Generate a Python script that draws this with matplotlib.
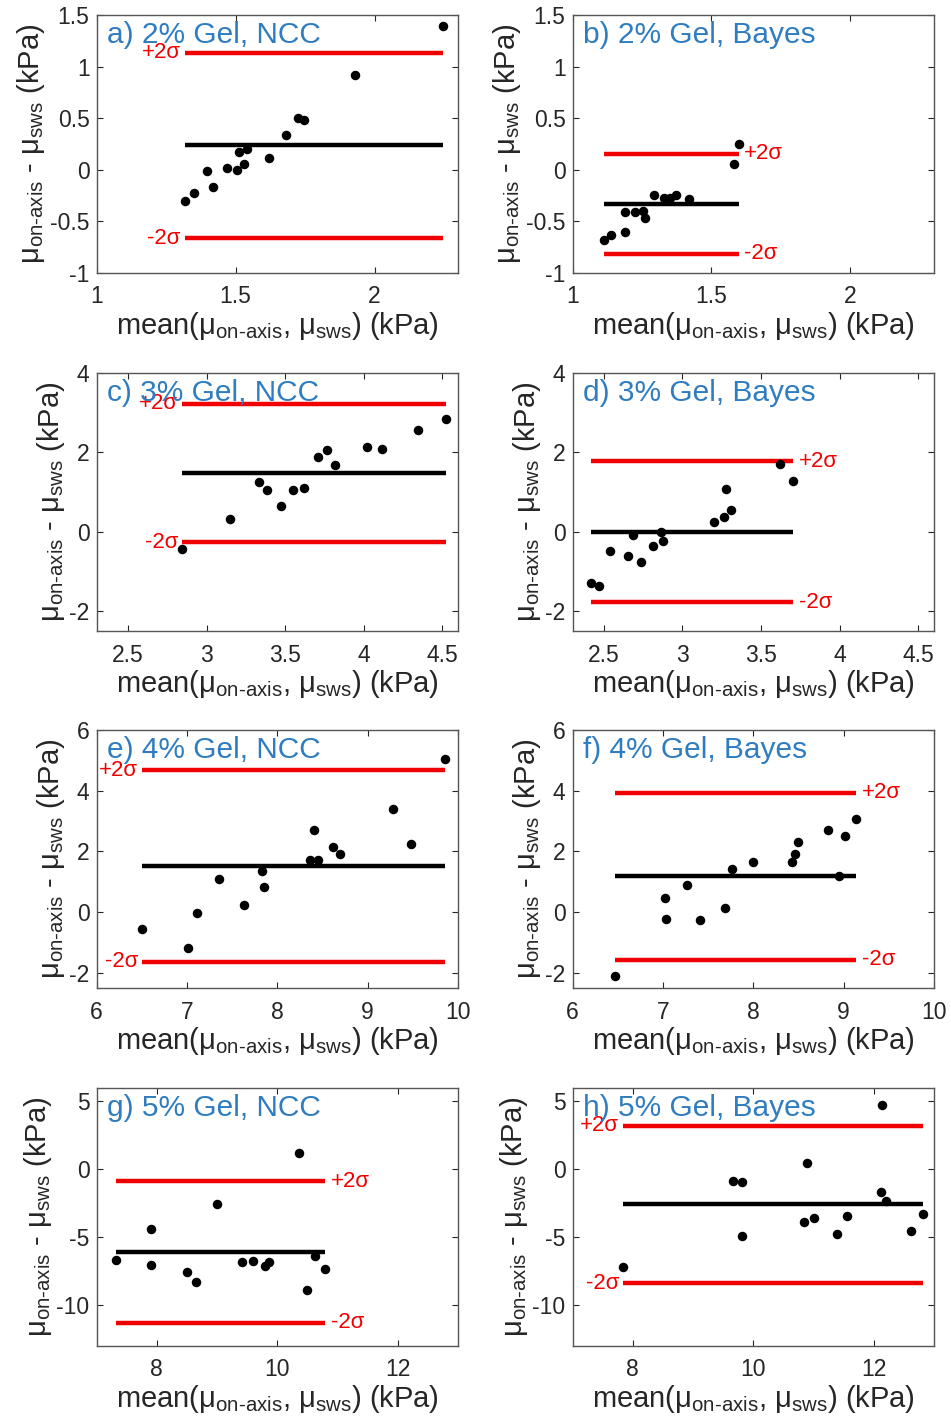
import matplotlib
matplotlib.use("Agg")
import matplotlib.pyplot as plt
from matplotlib.ticker import FuncFormatter

plt.rcParams['font.family'] = ['Liberation Sans', 'DejaVu Sans']
plt.rcParams['mathtext.fontset'] = 'custom'
plt.rcParams['mathtext.rm'] = 'Liberation Sans'
plt.rcParams['mathtext.it'] = 'Liberation Sans:italic'
plt.rcParams['axes.unicode_minus'] = False

# panel titles and where the +/-2 sigma labels sit
titles = ['a) 2% Gel, NCC', 'b) 2% Gel, Bayes', 'c) 3% Gel, NCC', 'd) 3% Gel, Bayes',
          'e) 4% Gel, NCC', 'f) 4% Gel, Bayes', 'g) 5% Gel, NCC', 'h) 5% Gel, Bayes']
sigma_side = ['left', 'right', 'left', 'right', 'left', 'right', 'right', 'left']

# mean of the two measurements (kPa)
x_a = [1.318, 1.35, 1.398, 1.419, 1.469, 1.506, 1.512, 1.530, 1.540, 1.621, 1.682, 1.724, 1.748, 1.929, 2.246]
x_b = [1.115, 1.138, 1.189, 1.189, 1.225, 1.255, 1.262, 1.293, 1.328, 1.35, 1.373, 1.419, 1.581, 1.598]
x_c = [2.845, 3.151, 3.337, 3.388, 3.475, 3.552, 3.622, 3.709, 3.764, 3.818, 4.022, 4.118, 4.345, 4.522]
x_d = [2.415, 2.466, 2.536, 2.653, 2.682, 2.733, 2.814, 2.865, 2.873, 3.202, 3.263, 3.274, 3.307, 3.619, 3.704]
x_e = [6.504, 7.007, 7.11, 7.359, 7.631, 7.837, 7.859, 8.358, 8.41, 8.454, 8.615, 8.696, 9.286, 9.481, 9.852]
x_f = [6.473, 7.027, 7.038, 7.27, 7.406, 7.687, 7.769, 7.993, 8.43, 8.463, 8.492, 8.832, 8.953, 9.012, 9.138]
x_g = [7.321, 7.91, 7.91, 8.50, 8.65, 8.993, 9.417, 9.60, 9.805, 9.859, 10.361, 10.50, 10.626, 10.80]
x_h = [7.846, 9.667, 9.821, 9.816, 10.843, 10.897, 11.008, 11.394, 11.56, 12.123, 12.20, 12.139, 12.626, 12.818]

# difference of the two measurements (kPa)
y_a = [-0.306, -0.228, -0.011, -0.17, 0.018, -0.001, 0.167, 0.054, 0.20, 0.109, 0.333, 0.50, 0.479, 0.916, 1.396]
y_b = [-0.684, -0.632, -0.607, -0.41, -0.413, -0.40, -0.466, -0.249, -0.278, -0.278, -0.245, -0.284, 0.055, 0.248]
y_c = [-0.44, 0.33, 1.245, 1.05, 0.66, 1.06, 1.10, 1.875, 2.06, 1.68, 2.14, 2.09, 2.56, 2.83]
y_d = [-1.30, -1.37, -0.49, -0.60, -0.09, -0.76, -0.36, 0.0, -0.23, 0.25, 0.38, 1.07, 0.55, 1.70, 1.28]
y_e = [-0.567, -1.18, -0.04, 1.095, 0.22, 1.345, 0.82, 1.73, 2.70, 1.71, 2.15, 1.91, 3.40, 2.26, 5.05]
y_f = [-2.11, 0.46, -0.21, 0.91, -0.27, 0.14, 1.42, 1.65, 1.65, 1.90, 2.31, 2.72, 1.18, 2.51, 3.06]
y_g = [-6.70, -4.37, -7.04, -7.59, -8.30, -2.56, -6.79, -6.77, -7.14, -6.84, 1.17, -8.85, -6.35, -7.33]
y_h = [-7.19, -0.85, -0.91, -4.94, -3.85, 0.46, -3.58, -4.79, -3.43, -1.69, -2.32, 4.74, -4.57, -3.25]

# bias and limits of agreement
bias = [0.235, -0.329, 1.49, 0.0, 1.51, 1.18, -6.07, -2.56]
upper = [1.133, 0.155, 3.23, 1.78, 4.68, 3.93, -0.88, 3.23]
lower = [-0.666, -0.816, -0.27, -1.78, -1.64, -1.57, -11.30, -8.37]

# axis limits and ticks
xlims = [(1, 2.3), (1, 2.3), (2.3, 4.6), (2.3, 4.6), (6, 10), (6, 10), (7, 13), (7, 13)]
ylims = [(-1, 1.5), (-1, 1.5), (-2.5, 4), (-2.5, 4), (-2.5, 6), (-2.5, 6), (-13, 6), (-13, 6)]
xticks = [[1, 1.5, 2], [1, 1.5, 2], [2.5, 3, 3.5, 4, 4.5], [2.5, 3, 3.5, 4, 4.5],
          [6, 7, 8, 9, 10], [6, 7, 8, 9, 10], [8, 10, 12], [8, 10, 12]]
yticks = [[-1, -0.5, 0, 0.5, 1, 1.5], [-1, -0.5, 0, 0.5, 1, 1.5], [-2, 0, 2, 4], [-2, 0, 2, 4],
          [-2, 0, 2, 4, 6], [-2, 0, 2, 4, 6], [-10, -5, 0, 5], [-10, -5, 0, 5]]

xs = [x_a, x_b, x_c, x_d, x_e, x_f, x_g, x_h]
ys = [y_a, y_b, y_c, y_d, y_e, y_f, y_g, y_h]

xlabel = r'mean(μ$_{\text{on-axis}}$, μ$_{\text{sws}}$) (kPa)'
ylabel = r'μ$_{\text{on-axis}}$ - μ$_{\text{sws}}$ (kPa)'

fig = plt.figure(figsize=(9.51, 14.18), dpi=100)
lefts = [0.1015, 0.602]
bottoms = [0.8075, 0.555, 0.3032, 0.0508]
w, h = 0.3800, 0.182
fmt = FuncFormatter(lambda v, p: '%g' % v)
red = '#f00000'
blue = '#2f7dc0'
axcol = '#262626'

for i in range(8):
    ax = fig.add_axes([lefts[i % 2], bottoms[i // 2], w, h])
    x, y = xs[i], ys[i]
    x0, x1 = min(x), max(x)
    ax.plot([x0, x1], [upper[i], upper[i]], color=red, lw=3.2, solid_capstyle='butt')
    ax.plot([x0, x1], [lower[i], lower[i]], color=red, lw=3.2, solid_capstyle='butt')
    ax.plot([x0, x1], [bias[i], bias[i]], color='black', lw=3.2, solid_capstyle='butt')
    ax.scatter(x, y, s=34, color='black', zorder=3)

    for val, lab in [(upper[i], '+2σ'), (lower[i], '-2σ')]:
        if sigma_side[i] == 'left':
            ax.annotate(lab, (x0, val), xytext=(-3, 0), textcoords='offset points',
                        ha='right', va='center', color=red, fontsize=16)
        else:
            ax.annotate(lab, (x1, val), xytext=(4, 0), textcoords='offset points',
                        ha='left', va='center', color=red, fontsize=16)

    ax.text(0.03, 0.975, titles[i], transform=ax.transAxes, ha='left', va='top',
            color=blue, fontsize=21.5)

    ax.set_xlim(*xlims[i])
    ax.set_ylim(*ylims[i])
    ax.set_xticks(xticks[i])
    ax.set_yticks(yticks[i])
    ax.xaxis.set_major_formatter(fmt)
    ax.yaxis.set_major_formatter(fmt)
    ax.tick_params(direction='in', top=True, right=True, length=4, width=0.8,
                   labelsize=16.5, colors=axcol, pad=5)
    ax.tick_params(axis='x', pad=9)
    for sp in ax.spines.values():
        sp.set_color('#555555')
        sp.set_linewidth(1.0)
    ax.set_xlabel(xlabel, fontsize=21, color=axcol, labelpad=1)
    ax.set_ylabel(ylabel, fontsize=21, color=axcol, labelpad=2)

fig.savefig('out.png', dpi=100)
